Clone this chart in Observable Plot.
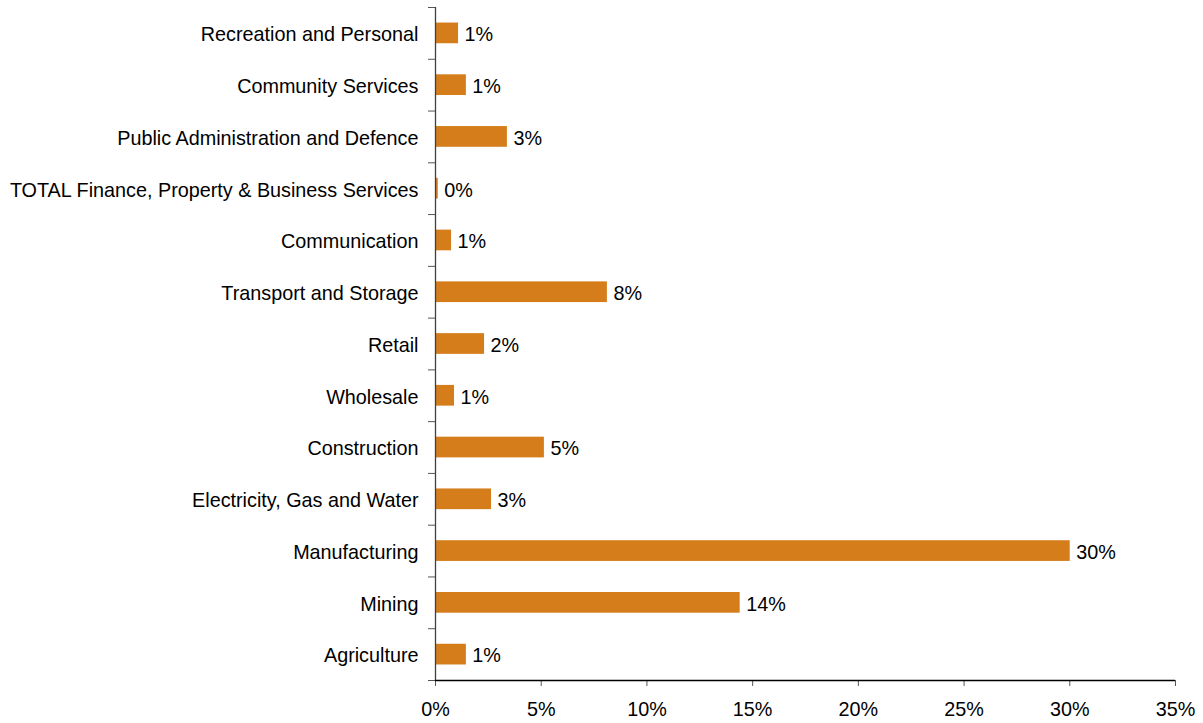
<!DOCTYPE html>
<html>
<head>
<meta charset="utf-8">
<script src="https://cdn.jsdelivr.net/npm/d3@7"></script>
<script src="https://cdn.jsdelivr.net/npm/@observablehq/plot@0.6"></script>
<style>
  html, body { margin: 0; padding: 0; background: #fff; }
  #chart { width: 1203px; height: 723px; }
  svg { font-family: "Liberation Sans", Arial, sans-serif; }
</style>
</head>
<body>
<div id="chart"></div>
<script>
// Categories, bottom to top
const categories = [
  "Agriculture",
  "Mining",
  "Manufacturing",
  "Electricity, Gas and Water",
  "Construction",
  "Wholesale",
  "Retail",
  "Transport and Storage",
  "Communication",
  "TOTAL Finance, Property & Business Services",
  "Public Administration and Defence",
  "Community Services",
  "Recreation and Personal"
];
// Share values (fractions)
const shares = [0.0146, 0.1441, 0.3002, 0.0265, 0.0515, 0.0090, 0.0232, 0.0813, 0.0076, 0.0013, 0.0340, 0.0146, 0.0109];
// X tick values
const xTicks = [0, 0.05, 0.10, 0.15, 0.20, 0.25, 0.30, 0.35];

const data = categories.map((c, i) => ({category: c, index: i, share: shares[i]}));
const pct = d3.format(".0%");
const boundaries = d3.range(categories.length + 1).map(i => i - 0.5);
const FS = 19.8;
const barColor = "#d47d1a";

const chart = Plot.plot({
  width: 1203,
  height: 723,
  marginLeft: 435,
  marginRight: 28,
  marginTop: 7,
  marginBottom: 43,
  style: {color: "#000", fontSize: FS + "px", fontFamily: "'Liberation Sans', Arial, sans-serif", background: "#fff"},
  x: {domain: [0, 0.35], label: null},
  y: {domain: [-0.5, categories.length - 0.5], label: null},
  marks: [
    Plot.rectX(data, {
      x1: 0,
      x2: "share",
      y1: d => d.index - 0.2,
      y2: d => d.index + 0.2,
      fill: barColor
    }),
    Plot.text(data, {
      x: "share",
      y: "index",
      text: d => pct(d.share),
      textAnchor: "start",
      dx: 6,
      dy: 1.5,
      fontSize: FS,
      fill: "#000"
    }),
    Plot.axisY({
      ticks: d3.range(categories.length),
      tickFormat: i => categories[i],
      tickSize: 0,
      tickPadding: 17,
      dy: 1.5,
      fontSize: FS,
      fill: "#000",
      label: null
    }),
    Plot.axisY({
      ticks: boundaries,
      tickFormat: () => "",
      tickSize: 7,
      stroke: "#555",
      label: null
    }),
    Plot.ruleX([0], {stroke: "#404040", strokeWidth: 1.3}),
    Plot.axisX({
      ticks: xTicks,
      tickFormat: pct,
      tickSize: 6,
      tickPadding: 15,
      stroke: "#555",
      fontSize: FS,
      fill: "#000",
      label: null
    }),
    Plot.ruleY([-0.5], {stroke: "#000", strokeWidth: 1.3})
  ]
});
document.getElementById("chart").appendChild(chart);
</script>
</body>
</html>
